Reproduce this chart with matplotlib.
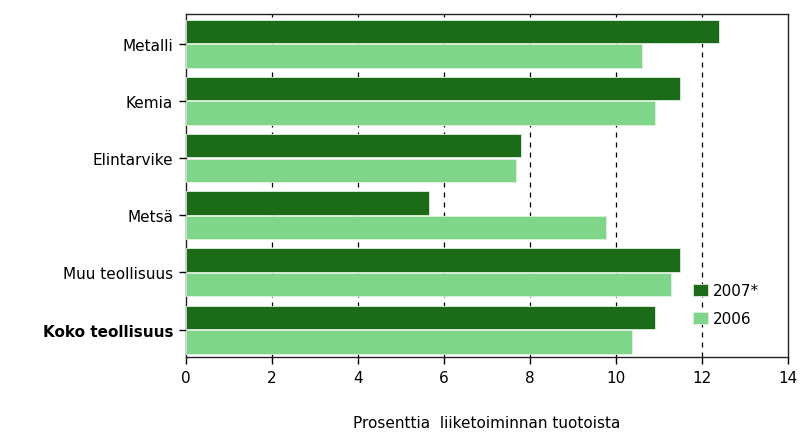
import matplotlib
matplotlib.use("Agg")
import matplotlib.pyplot as plt
import numpy as np

categories = ["Metalli", "Kemia", "Elintarvike", "Metsä", "Muu teollisuus", "Koko teollisuus"]
values_2007 = [12.4, 11.5, 7.8, 5.65, 11.5, 10.9]
values_2006 = [10.6, 10.9, 7.68, 9.78, 11.28, 10.38]
xticks = [0, 2, 4, 6, 8, 10, 12, 14]

c2007 = "#1c6b18"
c2006 = "#80d688"

plt.rcParams['font.family'] = ['DejaVu Sans']
fig = plt.figure(figsize=(8.0, 4.35), dpi=100)
ax = fig.add_axes([0.232, 0.177, 0.753, 0.789])

y = np.arange(len(categories))
h = 0.41
ax.barh(y - h/2 - 0.01, values_2007, height=h, color=c2007, edgecolor="#dff0df", linewidth=0.6, label="2007*", zorder=3)
ax.barh(y + h/2 + 0.01, values_2006, height=h, color=c2006, edgecolor="#dff0df", linewidth=0.6, label="2006", zorder=3)

ax.set_xlim(0, 14)
ax.set_ylim(5.48, -0.52)
ax.set_xticks(xticks)
ax.set_xticklabels([str(t) for t in xticks], fontsize=11)
ax.set_yticks(y)
ax.set_yticklabels(categories, fontsize=11)
for lbl in ax.get_yticklabels():
    if lbl.get_text() == "Koko teollisuus":
        lbl.set_fontweight("bold")
ax.tick_params(axis="both", direction="out", length=5, width=1, color="black", pad=4)
for x in xticks[1:-1]:
    ax.axvline(x, color="black", linestyle=(0, (4, 4)), linewidth=0.9, zorder=1)
for s in ax.spines.values():
    s.set_linewidth(1.0)
    s.set_color("#222222")

ax.set_xlabel("Prosenttia  liiketoiminnan tuotoista", fontsize=11, labelpad=22)

leg = ax.legend(loc="lower right", bbox_to_anchor=(0.975, 0.05), frameon=False, fontsize=11,
                handlelength=1.0, handleheight=0.8, handletextpad=0.3, labelspacing=0.85)
leg.set_zorder(5)

fig.savefig("out.png", dpi=100)
